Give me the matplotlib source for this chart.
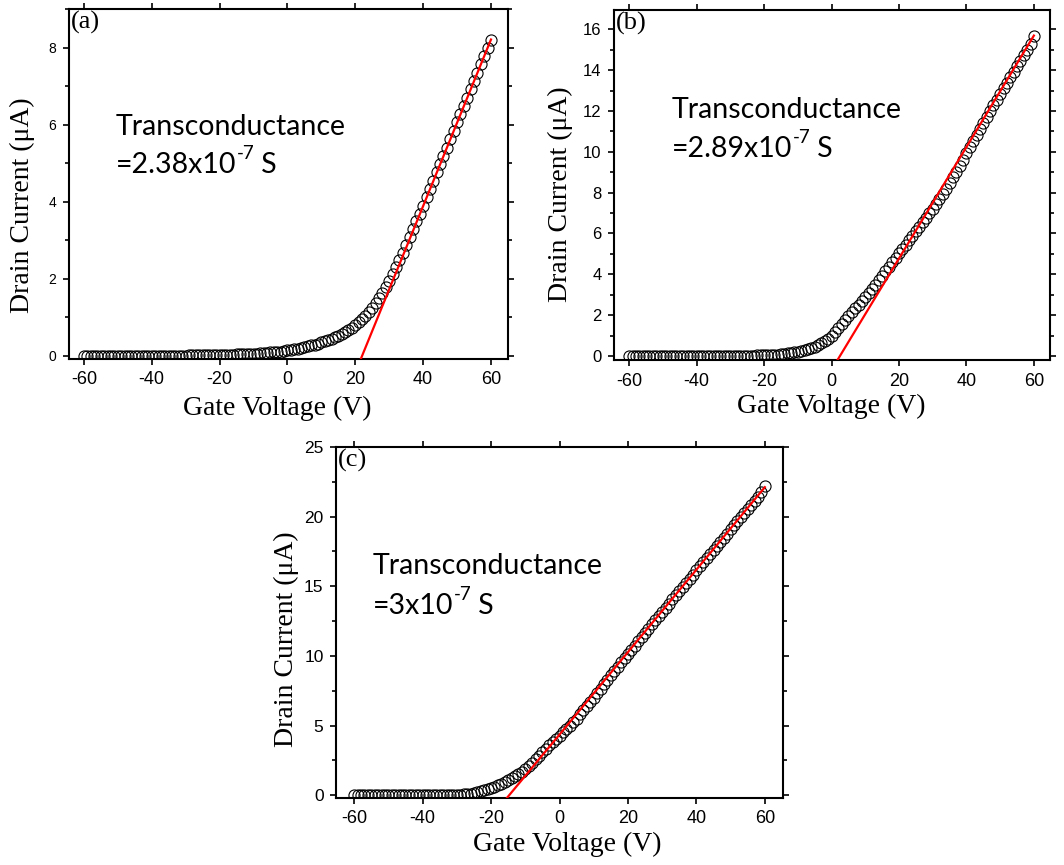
import matplotlib
matplotlib.use("Agg")
import matplotlib.pyplot as plt
from matplotlib.ticker import MultipleLocator
import numpy as np

plt.rcParams['axes.unicode_minus'] = False

# gate voltage sweep, 1 V steps
gate_v = np.arange(-60, 61)

# drain current (uA)
drain_a = [
    0.00, 0.00, 0.00, 0.00, 0.00, 0.00, 0.00, 0.00, 0.00, 0.00,
    0.00, 0.00, 0.00, 0.00, 0.00, 0.01, 0.01, 0.01, 0.01, 0.01,
    0.01, 0.01, 0.01, 0.01, 0.01, 0.01, 0.01, 0.01, 0.01, 0.01,
    0.01, 0.02, 0.02, 0.02, 0.02, 0.02, 0.02, 0.02, 0.02, 0.03,
    0.03, 0.03, 0.03, 0.03, 0.03, 0.04, 0.04, 0.04, 0.05, 0.05,
    0.06, 0.06, 0.07, 0.07, 0.08, 0.09, 0.09, 0.10, 0.11, 0.12,
    0.14, 0.15, 0.17, 0.19, 0.21, 0.23, 0.25, 0.27, 0.29, 0.32,
    0.35, 0.38, 0.41, 0.44, 0.48, 0.52, 0.56, 0.61, 0.66, 0.72,
    0.79, 0.87, 0.95, 1.04, 1.14, 1.25, 1.37, 1.50, 1.64, 1.79,
    1.95, 2.12, 2.30, 2.49, 2.68, 2.88, 3.08, 3.29, 3.49, 3.69,
    3.90, 4.11, 4.33, 4.53, 4.76, 4.98, 5.19, 5.40, 5.63, 5.84,
    6.06, 6.27, 6.48, 6.70, 6.92, 7.12, 7.34, 7.56, 7.77, 7.98, 8.20,
]
drain_b = [
    0.00, 0.00, 0.00, 0.00, 0.00, 0.00, 0.00, 0.00, 0.00, 0.00,
    0.00, 0.00, 0.00, 0.00, 0.00, 0.00, 0.00, 0.01, 0.01, 0.01,
    0.01, 0.01, 0.01, 0.01, 0.01, 0.01, 0.01, 0.01, 0.01, 0.01,
    0.01, 0.01, 0.01, 0.02, 0.02, 0.02, 0.02, 0.02, 0.03, 0.03,
    0.03, 0.04, 0.05, 0.06, 0.07, 0.08, 0.10, 0.12, 0.14, 0.17,
    0.20, 0.24, 0.28, 0.33, 0.39, 0.45, 0.53, 0.62, 0.72, 0.85,
    1.00, 1.18, 1.37, 1.56, 1.76, 1.95, 2.14, 2.33, 2.52, 2.71,
    2.90, 3.09, 3.28, 3.47, 3.70, 3.92, 4.14, 4.36, 4.58, 4.80,
    5.02, 5.24, 5.46, 5.68, 5.90, 6.12, 6.34, 6.56, 6.78, 7.00,
    7.22, 7.45, 7.69, 7.94, 8.20, 8.47, 8.75, 9.03, 9.32, 9.62,
    9.92, 10.22, 10.52, 10.82, 11.12, 11.42, 11.72, 12.00, 12.28, 12.56,
    12.84, 13.11, 13.38, 13.65, 13.92, 14.19, 14.46, 14.73, 15.00, 15.30, 15.67,
]
drain_c = [
    0.00, 0.00, 0.00, 0.00, 0.00, 0.00, 0.00, 0.00, 0.00, 0.00,
    0.00, 0.00, 0.00, 0.00, 0.00, 0.00, 0.00, 0.00, 0.00, 0.00,
    0.00, 0.00, 0.00, 0.00, 0.01, 0.01, 0.01, 0.01, 0.01, 0.02,
    0.02, 0.03, 0.05, 0.08, 0.12, 0.17, 0.23, 0.29, 0.36, 0.44,
    0.52, 0.61, 0.71, 0.82, 0.94, 1.07, 1.21, 1.36, 1.52, 1.68,
    1.85, 2.08, 2.32, 2.57, 2.83, 3.08, 3.33, 3.58, 3.81, 4.03,
    4.25, 4.50, 4.76, 5.00, 5.24, 5.50, 5.80, 6.10, 6.40, 6.70,
    7.00, 7.32, 7.64, 7.96, 8.28, 8.60, 8.91, 9.22, 9.53, 9.84,
    10.14, 10.44, 10.74, 11.04, 11.35, 11.66, 11.96, 12.26, 12.56, 12.86,
    13.16, 13.46, 13.76, 14.06, 14.36, 14.66, 14.96, 15.26, 15.55, 15.84,
    16.14, 16.43, 16.72, 17.02, 17.32, 17.62, 17.91, 18.20, 18.49, 18.78,
    19.08, 19.38, 19.68, 19.97, 20.26, 20.56, 20.85, 21.14, 21.43, 21.80, 22.17,
]

# linear fit: threshold voltage (V), slope (uA/V)
fit_vth = [22.0, 2.5, -14.7]
fit_slope = [0.216, 0.273, 0.296]

panel_tags = ['(a)', '(b)', '(c)']
gm_base = ['=2.38x10', '=2.89x10', '=3x10']
gm_exp = '-7'

fig = plt.figure(figsize=(10.64, 8.65), dpi=100)

# axes rectangles in figure fraction
rects = [
    [0.0648, 0.585, 0.4126, 0.4046],
    [0.5771, 0.5838, 0.4098, 0.4046],
    [0.3158, 0.0775, 0.4201, 0.4058],
]
xlims = [(-64.4, 65.0), (-64.5, 64.8), (-65.3, 65.3)]
ylims = [(-0.08, 9.0), (-0.2, 16.95), (-0.2, 25.0)]
ymajor = [2, 2, 5]
yminor = [1, 1, 2.5]
ytick_fs = [10, 12, 12.5]
xlabel_pos = [(0.474, -0.14), (0.498, -0.134), (0.517, -0.131)]
ylabel_pos = [(-0.105, 0.44), (-0.124, 0.474), (-0.112, 0.453)]
note_pos = [(0.107, 0.64, 0.531), (0.133, 0.691, 0.58), (0.083, 0.638, 0.524)]

for i, data in enumerate([drain_a, drain_b, drain_c]):
    ax = fig.add_axes(rects[i])
    ax.plot(gate_v, data, 'o', ms=8, mfc='none', mec='black', mew=0.8)

    # fitted line down to the bottom of the axes
    v0 = fit_vth[i] + ylims[i][0] / fit_slope[i]
    vv = np.array([v0, 60])
    ax.plot(vv, fit_slope[i] * (vv - fit_vth[i]), '-', color='#ff0000', lw=1.6, zorder=3)

    ax.set_xlim(*xlims[i])
    ax.set_ylim(*ylims[i])
    ax.xaxis.set_major_locator(MultipleLocator(20))
    ax.yaxis.set_major_locator(MultipleLocator(ymajor[i]))
    ax.yaxis.set_minor_locator(MultipleLocator(yminor[i]))
    for s in ax.spines.values():
        s.set_linewidth(1.5)
    ax.tick_params(which='both', direction='out', top=True, right=True, width=1.2)
    ax.tick_params(which='major', length=4)
    ax.tick_params(which='minor', length=3)
    ax.tick_params(axis='x', which='minor', top=False, bottom=False)
    ax.tick_params(axis='x', labelsize=13, pad=5)
    ax.tick_params(axis='y', labelsize=ytick_fs[i], pad=5)
    for lab in ax.get_xticklabels() + ax.get_yticklabels():
        lab.set_family('Liberation Sans')

    ax.text(xlabel_pos[i][0], xlabel_pos[i][1], 'Gate Voltage (V)', transform=ax.transAxes,
            ha='center', va='center', fontsize=20, family='Liberation Serif')
    ax.text(ylabel_pos[i][0], ylabel_pos[i][1], 'Drain Current (\u03bcA)', transform=ax.transAxes,
            ha='center', va='center', rotation=90, fontsize=20, family='Liberation Serif')
    ax.text(0.004, 0.995, panel_tags[i], transform=ax.transAxes, ha='left', va='top',
            fontsize=19, family='Liberation Serif')

    nx, ny1, ny2 = note_pos[i]
    ax.text(nx, ny1, 'Transconductance', transform=ax.transAxes, ha='left', va='baseline',
            fontsize=20.5, family='Lato')
    t1 = ax.text(nx, ny2, gm_base[i], transform=ax.transAxes, ha='left', va='baseline',
                 fontsize=20.5, family='Lato')
    t2 = ax.annotate(gm_exp, xy=(1.0, 0.62), xycoords=t1, ha='left', va='bottom',
                     fontsize=13.5, family='Lato')
    ax.annotate(' S', xy=(1.0, 0.0), xycoords=(t2, t1), ha='left', va='bottom',
                fontsize=20.5, family='Lato')

fig.savefig('out.png', dpi=100)
